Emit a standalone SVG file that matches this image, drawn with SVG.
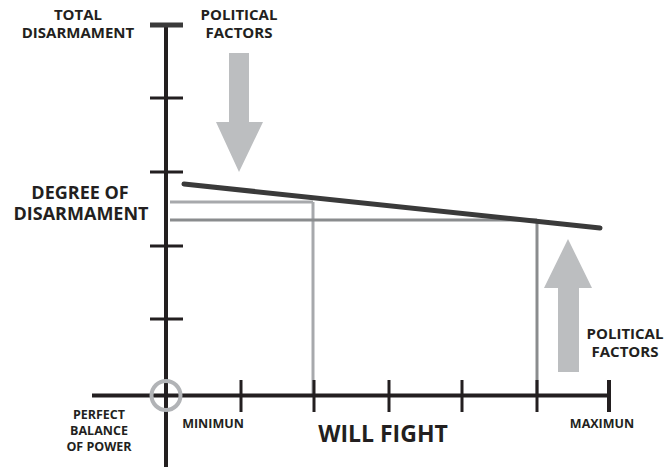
<svg xmlns="http://www.w3.org/2000/svg" width="664" height="467" viewBox="0 0 664 467">
<style>
text{font-family:"Open Sans","Liberation Sans",sans-serif;font-weight:bold;fill:#231f20;text-anchor:middle}
.t14{font-size:15px}
.t17{font-size:18px}
.t11{font-size:12.5px}
.t21{font-size:23px}
.axis{stroke:#231f20;stroke-width:4;fill:none}
.tick{stroke:#231f20;stroke-width:3;fill:none}
.arrow{fill:#bcbec0}
</style>
<rect width="664" height="467" fill="#fff"/>
<g id="connectors">
<line x1="170" y1="202" x2="313" y2="202" stroke="#a7a9ac" stroke-width="3"/>
<line x1="313" y1="202" x2="313" y2="395" stroke="#a7a9ac" stroke-width="3"/>
<line x1="170" y1="220" x2="537" y2="220" stroke="#8a8c8e" stroke-width="3"/>
<line x1="537" y1="220" x2="537" y2="395" stroke="#8a8c8e" stroke-width="3"/>
<line x1="184" y1="184" x2="600" y2="228" stroke="#3a3a3a" stroke-width="5" stroke-linecap="round"/>
</g>
<g id="axes">
<line class="axis" x1="166" y1="25" x2="166" y2="467"/>
<line x1="150" y1="25" x2="183" y2="25" stroke="#3a3a3a" stroke-width="5"/>
<line class="tick" x1="150" y1="98" x2="183" y2="98"/>
<line class="tick" x1="150" y1="172" x2="183" y2="172"/>
<line class="tick" x1="150" y1="246" x2="183" y2="246"/>
<line class="tick" x1="150" y1="319" x2="183" y2="319"/>
<line class="axis" x1="92" y1="395.5" x2="609" y2="395.5"/>
<line x1="609" y1="380" x2="609" y2="412" stroke="#231f20" stroke-width="4"/>
<line class="tick" x1="241" y1="380" x2="241" y2="412"/>
<line class="tick" x1="314" y1="380" x2="314" y2="412"/>
<line class="tick" x1="389" y1="380" x2="389" y2="412"/>
<line class="tick" x1="462" y1="380" x2="462" y2="412"/>
<line class="tick" x1="537" y1="380" x2="537" y2="412"/>
<circle cx="166" cy="395.5" r="14.5" fill="none" stroke="#b1b3b6" stroke-width="4"/>
</g>
<g id="arrow-down">
<polygon class="arrow" points="229,53 249,53 249,122 263,122 239,172 216,122 229,122"/>
</g>
<g id="arrow-up">
<polygon class="arrow" points="558,372 579,372 579,288 592,288 568,239 544,288 558,288"/>
</g>
<g id="label-total">
<text class="t14" x="78" y="20">TOTAL</text>
<text class="t14" x="78" y="38">DISARMAMENT</text>
</g>
<g id="label-political-top">
<text class="t14" x="239" y="20">POLITICAL</text>
<text class="t14" x="239" y="38">FACTORS</text>
</g>
<g id="label-degree">
<text class="t17" x="80" y="199">DEGREE OF</text>
<text class="t17" x="81" y="220">DISARMAMENT</text>
</g>
<g id="label-balance">
<text class="t11" x="99" y="419">PERFECT</text>
<text class="t11" x="99" y="435">BALANCE</text>
<text class="t11" x="99" y="451">OF POWER</text>
</g>
<g id="label-minimun">
<text class="t11" x="213" y="428">MINIMUN</text>
</g>
<g id="label-maximun">
<text class="t11" x="602" y="428">MAXIMUN</text>
</g>
<g id="label-willfight">
<text class="t21" x="383" y="442">WILL FIGHT</text>
</g>
<g id="label-political-bottom">
<text class="t14" x="625" y="339">POLITICAL</text>
<text class="t14" x="625" y="357">FACTORS</text>
</g>
</svg>
